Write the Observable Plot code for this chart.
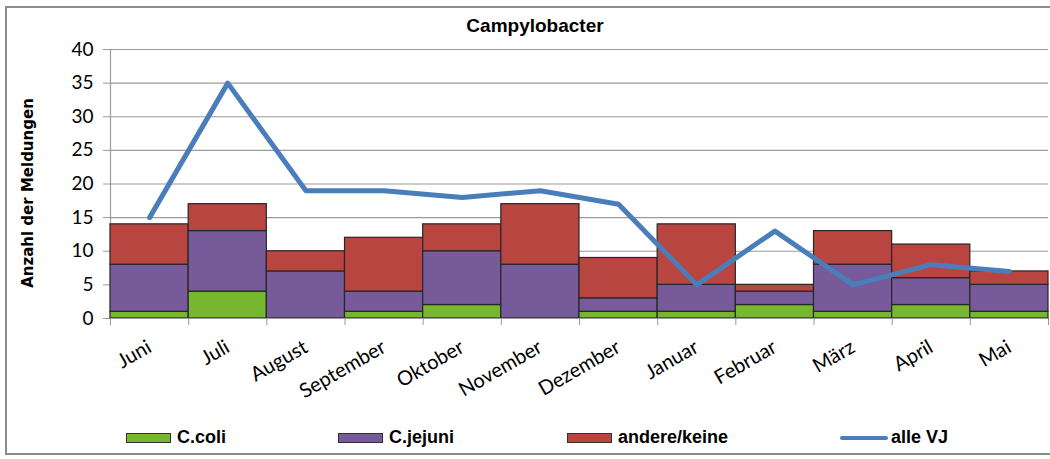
<!DOCTYPE html>
<html>
<head>
<meta charset="utf-8">
<script src="https://cdn.jsdelivr.net/npm/d3@7"></script>
<script src="https://cdn.jsdelivr.net/npm/@observablehq/plot@0.6"></script>
<style>
  html, body { margin: 0; padding: 0; background: #fff; }
  #wrap { position: relative; width: 1050px; height: 459px; overflow: hidden; }
  #frame { position: absolute; left: 5px; top: 6px; width: 1060px; height: 449px; border: 2px solid #8c8c8c; box-sizing: border-box; }
  #title { position: absolute; left: 0; width: 1070px; top: 15px; text-align: center; font: bold 19px "Liberation Sans", Arial, sans-serif; color: #000; }
  #ylabel { position: absolute; left: 28px; top: 193px; transform: translate(-50%, -50%) rotate(-90deg); white-space: nowrap; font: bold 15px "DejaVu Sans", sans-serif; color: #000; }
  #chart { position: absolute; left: 0; top: 0; }
  .leg { position: absolute; top: 427px; line-height: 21px; font: bold 18px "Liberation Sans", Arial, sans-serif; color: #000; display: flex; align-items: center; }
  .sw { display: inline-block; width: 43px; height: 8px; border: 1px solid #333; margin-right: 6px; }
  .ln { display: inline-block; width: 48px; height: 4px; border-radius: 2px; margin-right: 3px; }
</style>
</head>
<body>
<div id="wrap">
  <div id="frame"></div>
  <div id="title">Campylobacter</div>
  <div id="ylabel">Anzahl der Meldungen</div>
  <div id="chart"></div>
  <div id="legend"></div>
</div>
<script>
// ---- data ----
const months = ["Juni","Juli","August","September","Oktober","November","Dezember","Januar","Februar","März","April","Mai"];
const cColi   = [1, 4, 0, 1, 2, 0, 1, 1, 2, 1, 2, 1];
const cJejuni = [7, 9, 7, 3, 8, 8, 2, 4, 2, 7, 4, 4];
const andere  = [6, 4, 3, 8, 4, 9, 6, 9, 1, 5, 5, 2];
const alleVJ  = [15, 35, 19, 19, 18, 19, 17, 5, 13, 5, 8, 7];
const seriesNames = ["C.coli", "C.jejuni", "andere/keine"];
const lineName = "alle VJ";
const yTicks = [0, 5, 10, 15, 20, 25, 30, 35, 40];

const colors = {"C.coli": "#77B72F", "C.jejuni": "#775A9A", "andere/keine": "#B94541"};
const lineColor = "#4A7EBB";

// build stacked table
const seriesValues = [cColi, cJejuni, andere];
const rects = [];
months.forEach((m, i) => {
  let base = 0;
  seriesNames.forEach((s, k) => {
    const v = seriesValues[k][i];
    if (v > 0) rects.push({i, month: m, series: s, y1: base, y2: base + v});
    base += v;
  });
});
const lineData = months.map((m, i) => ({i, month: m, value: alleVJ[i]}));

const chart = Plot.plot({
  width: 1050,
  height: 415,
  marginLeft: 110,
  marginRight: 2,
  marginTop: 49,
  marginBottom: 97,
  style: {background: "transparent", fontFamily: "Lato, sans-serif", color: "#000"},
  x: {type: "linear", domain: [0, 12]},
  y: {domain: [0, 40]},
  marks: [
    Plot.gridY(yTicks, {stroke: "#9a9a9a", strokeOpacity: 1, strokeWidth: 1.2}),
    Plot.axisY({ticks: yTicks, tickSize: 7, tickPadding: 10, fontSize: 19, stroke: "#9a9a9a", label: null}),
    Plot.axisX({ticks: d3.range(13), tickSize: 7, tickFormat: () => "", stroke: "#9a9a9a", label: null}),
    Plot.axisX({ticks: months.map((m, i) => i + 0.5), tickSize: 0, tickRotate: -30, tickPadding: 27,
                tickFormat: d => months[Math.floor(d)], fontSize: 20, label: null, dx: 0}),
    Plot.ruleX([0], {stroke: "#9a9a9a", strokeWidth: 1.2}),
    Plot.rect(rects, {x1: "i", x2: d => d.i + 1, y1: "y1", y2: "y2", fill: d => colors[d.series], stroke: "#262626", strokeWidth: 1.2}),
    Plot.ruleY([0], {stroke: "#9a9a9a", strokeWidth: 1.2}),
    Plot.line(lineData, {x: d => d.i + 0.5, y: "value", stroke: lineColor, strokeWidth: 5, strokeLinejoin: "round"})
  ]
});
document.getElementById("chart").appendChild(chart);

// legend
const legendItems = [
  {name: seriesNames[0], x: 126, kind: "box"},
  {name: seriesNames[1], x: 338, kind: "box"},
  {name: seriesNames[2], x: 567, kind: "box"},
  {name: lineName, x: 840, kind: "line"}
];
const lg = document.getElementById("legend");
legendItems.forEach(it => {
  const d = document.createElement("div");
  d.className = "leg";
  d.style.left = it.x + "px";
  const s = document.createElement("span");
  if (it.kind === "box") { s.className = "sw"; s.style.background = colors[it.name]; }
  else { s.className = "ln"; s.style.background = lineColor; }
  d.appendChild(s);
  const t = document.createElement("span");
  t.textContent = it.name;
  d.appendChild(t);
  lg.appendChild(d);
});
</script>
</body>
</html>
